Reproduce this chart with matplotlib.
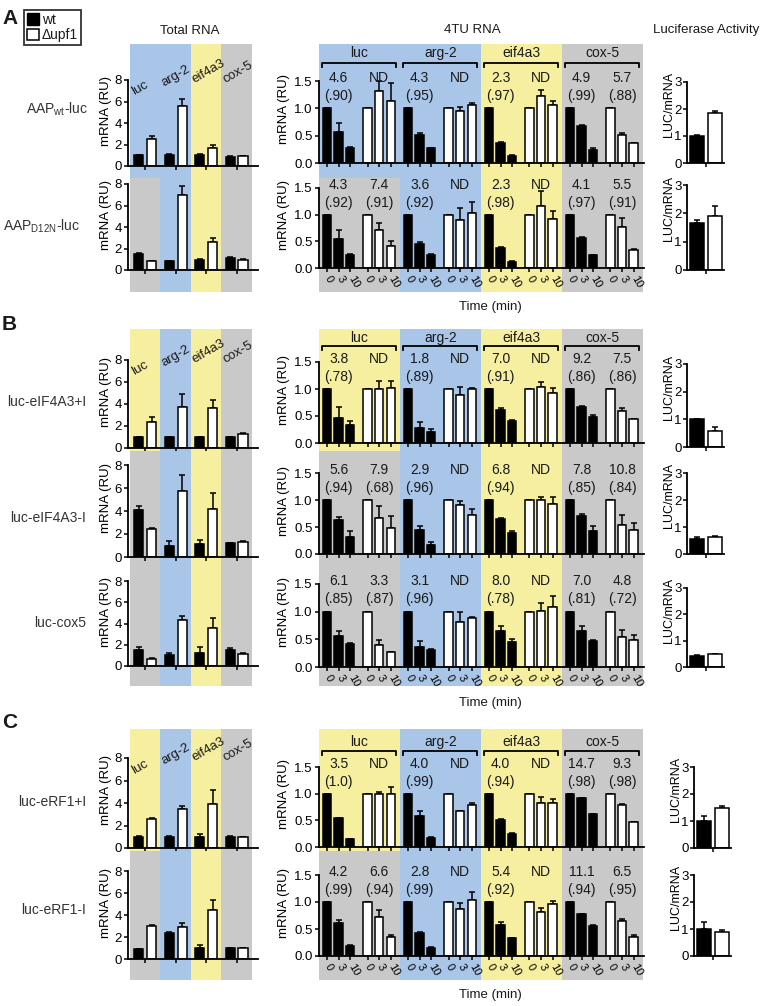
import numpy as np
import matplotlib.pyplot as plt
from matplotlib.patches import Rectangle, Patch
from matplotlib.transforms import Affine2D, blended_transform_factory

plt.rcParams['font.family'] = ['Liberation Sans', 'DejaVu Sans']
plt.rcParams['mathtext.fontset'] = 'custom'
plt.rcParams['mathtext.rm'] = 'Liberation Sans'
plt.rcParams['axes.linewidth'] = 1.3
plt.rcParams['text.color'] = '#1a1a1a'

# ---------------- data ----------------
genes = ['luc', 'arg-2', 'eif4a3', 'cox-5']
times = ['0', '3', '10']
sections = ['A', 'B', 'C']
constructs = ['AAP$_{\\mathregular{wt}}$-luc', 'AAP$_{\\mathregular{D12N}}$-luc',
              'luc-eIF4A3+I', 'luc-eIF4A3-I', 'luc-cox5',
              'luc-eRF1+I', 'luc-eRF1-I']
row_section = [0, 0, 1, 1, 1, 2, 2]

# background colour of each gene column, per construct
row_bg = [['blue', 'blue', 'yellow', 'gray'],
          ['gray', 'blue', 'yellow', 'gray'],
          ['yellow', 'blue', 'yellow', 'gray'],
          ['gray', 'blue', 'yellow', 'gray'],
          ['gray', 'blue', 'yellow', 'gray'],
          ['yellow', 'blue', 'yellow', 'gray'],
          ['gray', 'blue', 'yellow', 'gray']]

# Total RNA (steady state), wt vs upf1, upper error
total_wt = [[1.0, 1.05, 1.05, 0.88],
            [1.5, 0.8, 0.9, 1.1],
            [1.0, 1.0, 1.0, 1.0],
            [4.1, 1.0, 1.1, 1.2],
            [1.55, 1.05, 1.2, 1.5],
            [1.0, 1.0, 1.0, 1.0],
            [0.88, 2.35, 1.0, 1.0]]
total_wt_err = [[0.05, 0.1, 0.06, 0.05],
                [0.08, 0.05, 0.12, 0.08],
                [0.0, 0.0, 0.0, 0.0],
                [0.3, 0.4, 0.35, 0.05],
                [0.2, 0.15, 0.6, 0.15],
                [0.05, 0.05, 0.28, 0.03],
                [0.04, 0.08, 0.25, 0.03]]
total_upf1 = [[2.55, 5.6, 1.7, 0.9],
              [0.8, 7.0, 2.6, 0.95],
              [2.4, 3.7, 3.65, 1.3],
              [2.4, 5.7, 4.2, 1.3],
              [0.7, 4.3, 3.6, 1.1],
              [2.6, 3.45, 3.95, 0.95],
              [3.0, 2.95, 4.5, 1.0]]
total_upf1_err = [[0.2, 0.6, 0.22, 0.06],
                  [0.05, 0.8, 0.35, 0.05],
                  [0.4, 1.2, 0.7, 0.05],
                  [0.1, 1.4, 1.4, 0.05],
                  [0.08, 0.4, 0.9, 0.1],
                  [0.05, 0.25, 1.25, 0.04],
                  [0.06, 0.35, 0.85, 0.04]]

# 4TU RNA decay, [construct][gene][time 0,3,10]
tu_wt = [[[1, .56, .28], [1, .52, .27], [1, .37, .13], [1, .67, .24]],
         [[1, .55, .25], [1, .45, .25], [1, .37, .12], [1, .56, .24]],
         [[1, .47, .34], [1, .28, .20], [1, .62, .40], [1, .67, .49]],
         [[1, .63, .31], [1, .44, .17], [1, .64, .38], [1, .71, .42]],
         [[1, .56, .41], [1, .37, .30], [1, .65, .45], [1, .65, .47]],
         [[1, .55, .15], [1, .59, .17], [1, .50, .24], [1, .91, .62]],
         [[1, .61, .18], [1, .43, .14], [1, .58, .33], [1, .77, .55]]]
tu_wt_err = [[[0, .18, .02], [0, .02, .01], [0, .02, .02], [0, .02, .03]],
             [[0, .16, .02], [0, .04, .01], [0, .02, .01], [0, .03, .01]],
             [[0, .20, .06], [0, .11, .06], [0, .03, .02], [0, .02, .02]],
             [[0, .06, .11], [0, .08, .06], [0, .02, .04], [0, .03, .10]],
             [[0, .09, .02], [0, .10, .02], [0, .10, .05], [0, .10, .02]],
             [[0, .00, .00], [0, .09, .02], [0, .03, .02], [0, .01, .00]],
             [[0, .06, .02], [0, .01, .02], [0, .05, .00], [0, .01, .02]]]
tu_upf1 = [[[1, 1.32, 1.14], [1, .96, 1.07], [1, 1.23, 1.07], [1, .52, .36]],
           [[1, .71, .41], [1, .90, 1.04], [1, 1.17, .91], [1, .77, .33]],
           [[1, 1.0, 1.02], [1, .88, 1.0], [1, 1.03, .93], [1, .60, .44]],
           [[1, .66, .48], [1, .90, .73], [1, 1.0, .92], [1, .54, .45]],
           [[1, .40, .27], [1, .82, .88], [1, 1.02, 1.09], [1, .54, .48]],
           [[1, 1.0, 1.0], [1, .68, .79], [1, .83, .83], [1, .79, .47]],
           [[1, .72, .35], [1, .87, 1.04], [1, .82, .96], [1, .65, .36]]]
tu_upf1_err = [[[0, .18, .32], [0, .07, .02], [0, .11, .06], [0, .03, .01]],
               [[0, .13, .10], [0, .23, .20], [0, .28, .16], [0, .16, .03]],
               [[0, .15, .13], [0, .16, .02], [0, .10, .08], [0, .04, .00]],
               [[0, .23, .22], [0, .08, .11], [0, .06, .14], [0, .19, .13]],
               [[0, .08, .00], [0, .18, .03], [0, .13, .19], [0, .12, .10]],
               [[0, .03, .12], [0, .00, .03], [0, .10, .07], [0, .02, .00]],
               [[0, .14, .04], [0, .11, .15], [0, .06, .06], [0, .03, .02]]]

# half-lives (min) and r^2 of the fits
half_wt = [['4.6', '4.3', '2.3', '4.9'], ['4.3', '3.6', '2.3', '4.1'],
           ['3.8', '1.8', '7.0', '9.2'], ['5.6', '2.9', '6.8', '7.8'],
           ['6.1', '3.1', '8.0', '7.0'], ['3.5', '4.0', '4.0', '14.7'],
           ['4.2', '2.8', '5.4', '11.1']]
r2_wt = [['.90', '.95', '.97', '.99'], ['.92', '.92', '.98', '.97'],
         ['.78', '.89', '.91', '.86'], ['.94', '.96', '.94', '.85'],
         ['.85', '.96', '.78', '.81'], ['1.0', '.99', '.94', '.98'],
         ['.99', '.99', '.92', '.94']]
half_upf1 = [['ND', 'ND', 'ND', '5.7'], ['7.4', 'ND', 'ND', '5.5'],
             ['ND', 'ND', 'ND', '7.5'], ['7.9', 'ND', 'ND', '10.8'],
             ['3.3', 'ND', 'ND', '4.8'], ['ND', 'ND', 'ND', '9.3'],
             ['6.6', 'ND', 'ND', '6.5']]
r2_upf1 = [['', '', '', '.88'], ['.91', '', '', '.91'],
           ['', '', '', '.86'], ['.68', '', '', '.84'],
           ['.87', '', '', '.72'], ['', '', '', '.98'],
           ['.94', '', '', '.95']]

# luciferase activity per mRNA
luc_wt = [1.0, 1.65, 1.0, 0.57, 0.40, 1.0, 1.0]
luc_wt_err = [0.05, 0.10, 0.0, 0.05, 0.04, 0.20, 0.25]
luc_upf1 = [1.87, 1.92, 0.57, 0.62, 0.48, 1.5, 0.90]
luc_upf1_err = [0.06, 0.33, 0.15, 0.04, 0.03, 0.05, 0.07]

# ---------------- layout (pixels, top-left origin) ----------------
COL = {'blue': '#a9c5e7', 'yellow': '#f6ef9f', 'gray': '#c9c9c9'}
W, H = 768, 1006
total_y = [(80, 166), (184, 270), (360, 448), (465, 557), (581, 666), (758, 848), (871, 959)]
tu_y = [(81, 163), (188, 268), (362, 443), (473, 554), (584, 667), (767, 847), (875, 956)]
luc_y = [(82, 163), (185, 270), (364, 447), (473, 554), (588, 667), (767, 848), (875, 956)]
bg_top = [44, 178, 329, 451, 563, 729, 851]
bg_bot = [178, 292, 451, 563, 686, 851, 980]
label_xy = [(88, 109), (80, 226), (86, 402), (86, 518), (86, 623), (86, 802), (86, 910)]
header_y = {0: (53, 63), 2: (338, 346), 5: (742, 751)}
time_y = {1: 307, 4: 703, 6: 995}
sec_xy = [(10, 18), (9, 325), (10, 723)]
gene_lab_y = [6.6, 7.4, 7.7, 7.7]

fig = plt.figure(figsize=(W / 100, H / 100), dpi=100)
PX = Affine2D().scale(1 / W, -1 / H).translate(0, 1) + fig.transFigure


def add_ax(left, right, top, bottom):
    ax = fig.add_axes([left / W, 1 - bottom / H, (right - left) / W, (bottom - top) / H])
    ax.set_facecolor('none')
    ax.spines['top'].set_visible(False)
    ax.spines['right'].set_visible(False)
    ax.tick_params(direction='out', length=3, width=1.1, pad=1.5, colors='k', labelsize=9)
    return ax


def upper_err(ax, x, y, e):
    ax.errorbar(x, y, yerr=[np.zeros(len(y)), e], fmt='none', ecolor='k',
                elinewidth=1.1, capsize=2.2, capthick=1.1, zorder=1.5, clip_on=False)


for r in range(7):
    first = r == 0 or row_section[r] != row_section[r - 1]
    last = r == 6 or row_section[r] != row_section[r + 1]

    # ---- Total RNA ----
    ax = add_ax(128, 258, *total_y[r])
    ax.set_xlim(-0.566, 3.7)
    ax.set_ylim(0, 8)
    tr = blended_transform_factory(ax.transData, PX)
    for i, c in enumerate(row_bg[r]):
        ax.add_patch(Rectangle((i - 0.5, bg_top[r]), 1, bg_bot[r] - bg_top[r], transform=tr,
                               fc=COL[c], lw=0, zorder=0, clip_on=False))
    x = np.arange(4)
    ax.bar(x - 0.21, total_wt[r], 0.3, color='k', edgecolor='k', lw=1.1, zorder=2)
    ax.bar(x + 0.21, total_upf1[r], 0.3, color='w', edgecolor='k', lw=1.1, zorder=2)
    upper_err(ax, x - 0.21, total_wt[r], total_wt_err[r])
    upper_err(ax, x + 0.21, total_upf1[r], total_upf1_err[r])
    ax.set_xticks(x, [''] * 4)
    ax.set_yticks([0, 2, 4, 6, 8])
    ax.tick_params(axis='y', labelsize=9.5)
    ax.set_ylabel('mRNA (RU)', fontsize=9.5)
    ax.yaxis.set_label_coords(-0.125, 0.64)
    if first:
        for i, g in enumerate(genes):
            ax.text(i - 0.38, gene_lab_y[i], g, rotation=30, rotation_mode='anchor',
                    ha='left', va='baseline', fontsize=9.5, zorder=3)

    fig.text(label_xy[r][0], label_xy[r][1], constructs[r], transform=PX, ha='right',
             va='center', fontsize=10, color='#333333')

    # ---- 4TU RNA ----
    ax = add_ax(319, 644, *tu_y[r])
    ax.set_xlim(0, 28.1)
    ax.set_ylim(0, 1.5)
    tr = blended_transform_factory(ax.transData, PX)
    pos_all, lab_all = [], []
    for c in range(4):
        ax.add_patch(Rectangle((7 * c, bg_top[r]), 7, bg_bot[r] - bg_top[r], transform=tr,
                               fc=COL[row_bg[r][c]], lw=0, zorder=0, clip_on=False))
        pw = 7 * c + 0.7 + np.arange(3)
        pu = 7 * c + 4.2 + np.arange(3)
        ax.bar(pw, tu_wt[r][c], 0.72, color='k', edgecolor='k', lw=1.1, zorder=2)
        ax.bar(pu, tu_upf1[r][c], 0.72, color='w', edgecolor='k', lw=1.1, zorder=2)
        upper_err(ax, pw, tu_wt[r][c], tu_wt_err[r][c])
        upper_err(ax, pu, tu_upf1[r][c], tu_upf1_err[r][c])
        pos_all += list(pw) + list(pu)
        lab_all += times + times

        for px_, hl, r2 in ((7 * c + 1.7, half_wt[r][c], r2_wt[r][c]),
                            (7 * c + 5.2, half_upf1[r][c], r2_upf1[r][c])):
            ax.text(px_, 1.55, hl, ha='center', va='center', fontsize=10, zorder=3)
            if r2:
                ax.text(px_, 1.22, '(' + r2 + ')', ha='center', va='center', fontsize=10, zorder=3)

        if first:
            ty, by = header_y[r]
            ax.text(7 * c + 3.5, ty, genes[c], transform=tr, ha='center', va='center', fontsize=10)
            ax.plot([7 * c + 0.25, 7 * c + 0.25, 7 * c + 6.65, 7 * c + 6.65],
                    [by + 4, by, by, by + 4], transform=tr, color='k', lw=1.3, clip_on=False)

    ax.set_yticks([0, 0.5, 1.0, 1.5], ['0.0', '0.5', '1.0', '1.5'])
    ax.tick_params(axis='y', labelsize=9.5)
    if last:
        ax.set_xticks(pos_all, lab_all)
        for t in ax.get_xticklabels():
            t.set(rotation=-60, rotation_mode='anchor', ha='left', va='center', fontsize=8)
        ax.tick_params(axis='x', pad=3)
        fig.text(490, time_y[r], 'Time (min)', transform=PX, ha='center', va='center', fontsize=9.5)
    else:
        ax.set_xticks(pos_all, [''] * len(pos_all))
    ax.set_ylabel('mRNA (RU)', fontsize=9.5)
    ax.yaxis.set_label_coords(-0.09, 0.66)

    # ---- Luciferase activity ----
    left = 694 if row_section[r] == 2 else 687
    ax = add_ax(left, left + 37, *luc_y[r])
    ax.set_xlim(-0.55, 1.5)
    ax.set_ylim(0, 3)
    ax.bar([0, 1], [luc_wt[r], luc_upf1[r]], 0.8, color=['k', 'w'], edgecolor='k', lw=1.1, zorder=2)
    upper_err(ax, [0, 1], [luc_wt[r], luc_upf1[r]], [luc_wt_err[r], luc_upf1_err[r]])
    ax.set_xticks([0.5], [''])
    ax.set_yticks([0, 1, 2, 3])
    ax.tick_params(axis='y', labelsize=9.5, pad=1)
    ax.set_ylabel('LUC/mRNA', fontsize=9)
    ax.yaxis.set_label_coords(-0.33, 0.72)

# ---------------- titles, section letters, legend ----------------
fig.text(190, 31, 'Total RNA', transform=PX, ha='center', va='center', fontsize=9.5)
fig.text(472, 30, '4TU RNA', transform=PX, ha='center', va='center', fontsize=9.5)
fig.text(706, 30, 'Luciferase Activity', transform=PX, ha='center', va='center', fontsize=9.5)
for (sx, sy), s in zip(sec_xy, sections):
    fig.text(sx, sy, s, transform=PX, ha='center', va='center', fontsize=15, fontweight='bold')

leg = fig.legend([Patch(fc='k', ec='k'), Patch(fc='w', ec='k', lw=1.1)], ['wt', '\u0394upf1'],
                 loc='upper left', bbox_to_anchor=(24 / W, 1 - 10 / H), frameon=True,
                 fancybox=False, edgecolor='k', handlelength=0.9, handleheight=0.9,
                 handletextpad=0.2, borderpad=0.2, labelspacing=0.1, borderaxespad=0,
                 fontsize=10)
leg.get_frame().set_linewidth(1.3)

fig.savefig('out.png', dpi=100)
